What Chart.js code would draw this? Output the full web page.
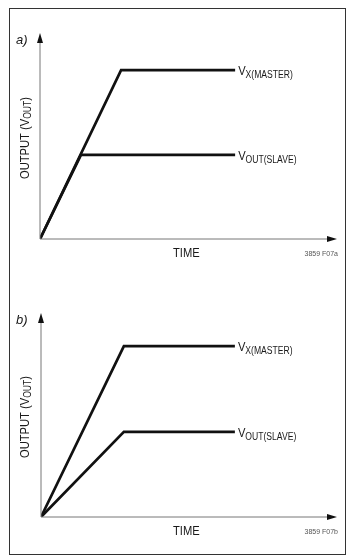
<!DOCTYPE html>
<html>
<head>
<meta charset="utf-8">
<script src="https://cdn.jsdelivr.net/npm/chart.js@4.4.1/dist/chart.umd.min.js"></script>
<style>
  body { margin: 0; background: #fff; }
  #page { position: relative; width: 353px; height: 560px; overflow: hidden; background: #fff; }
  #frame { position: absolute; left: 9px; top: 8px; width: 335px; height: 545px; border: 1px solid #333; }
  canvas { position: absolute; left: 0; }
  #chartA { top: 0; }
  #chartB { top: 280px; }
</style>
</head>
<body>
<div id="page">
  <div id="frame"></div>
  <canvas id="chartA" width="353" height="280"></canvas>
  <canvas id="chartB" width="353" height="280"></canvas>
</div>
<script>
// panel a) - slave follows master then levels off
var timeA = [0, 2.73, 6.57];
var masterA = [0, 8.2, 8.2];
var slaveTimeA = [0, 1.38, 6.57];
var slaveA = [0, 4.08, 4.08];

// panel b) - both ramp together, slave at lower ratio
var timeB = [0, 2.8, 6.55];
var masterB = [0, 8.38, 8.38];
var slaveB = [0, 4.17, 4.17];

var FONT = '"Liberation Sans Narrow", "Liberation Sans", Arial, sans-serif';
var SQUEEZE = 0.86; // fake a condensed face

function toPoints(xs, ys) {
  return xs.map(function (x, i) { return { x: x, y: ys[i] }; });
}

// condensed text run, returns advance width
function narrowText(ctx, txt, x, y, size) {
  ctx.save();
  ctx.font = size + 'px ' + FONT;
  ctx.translate(x, y);
  ctx.scale(SQUEEZE, 1);
  ctx.fillText(txt, 0, 0);
  var w = ctx.measureText(txt).width * SQUEEZE;
  ctx.restore();
  return w;
}

function narrowWidth(ctx, txt, size) {
  ctx.save();
  ctx.font = size + 'px ' + FONT;
  var w = ctx.measureText(txt).width * SQUEEZE;
  ctx.restore();
  return w;
}

// V with a subscript part
function subLabel(ctx, x, y, main, sub) {
  ctx.textBaseline = 'alphabetic';
  ctx.textAlign = 'left';
  var w = narrowText(ctx, main, x, y, 13);
  narrowText(ctx, sub, x + w, y + 3, 10);
}

// axes with arrows, labels and the little figure tag
var figurePlugin = {
  id: 'figure',
  afterDraw: function (chart, args, opts) {
    var ctx = chart.ctx;
    var a = chart.chartArea;
    var xs = chart.scales.x, ys = chart.scales.y;
    ctx.save();

    // axis lines
    ctx.strokeStyle = '#777';
    ctx.lineWidth = 1;
    ctx.beginPath();
    ctx.moveTo(a.left, a.bottom);
    ctx.lineTo(a.left, a.top + 6);
    ctx.moveTo(a.left, a.bottom);
    ctx.lineTo(a.right - 6, a.bottom);
    ctx.stroke();

    // arrow heads
    ctx.fillStyle = '#111';
    ctx.beginPath();
    ctx.moveTo(a.left, a.top);
    ctx.lineTo(a.left - 3, a.top + 10);
    ctx.lineTo(a.left + 3, a.top + 10);
    ctx.closePath();
    ctx.fill();
    ctx.beginPath();
    ctx.moveTo(a.right, a.bottom);
    ctx.lineTo(a.right - 10, a.bottom - 3);
    ctx.lineTo(a.right - 10, a.bottom + 3);
    ctx.closePath();
    ctx.fill();

    ctx.fillStyle = '#1a1a1a';
    // panel letter
    ctx.font = 'italic 13px ' + FONT;
    ctx.textAlign = 'left';
    ctx.textBaseline = 'middle';
    ctx.fillText(opts.tag, 16, a.top + 7);

    // x label
    narrowText(ctx, 'TIME', 173, a.bottom + 14, 13);

    // figure code
    ctx.fillStyle = '#555';
    ctx.textAlign = 'right';
    ctx.font = '7px ' + FONT;
    ctx.fillText(opts.code, 338, a.bottom + 15);
    ctx.textAlign = 'left';

    // y label, rotated
    ctx.fillStyle = '#1a1a1a';
    ctx.save();
    ctx.translate(25, (a.top + a.bottom) / 2 + 2);
    ctx.rotate(-Math.PI / 2);
    var w1 = narrowWidth(ctx, 'OUTPUT (V', 13);
    var w2 = narrowWidth(ctx, 'OUT', 10);
    var w3 = narrowWidth(ctx, ')', 13);
    var start = -(w1 + w2 + w3) / 2;
    narrowText(ctx, 'OUTPUT (V', start, 0, 13);
    narrowText(ctx, 'OUT', start + w1, 3, 10);
    narrowText(ctx, ')', start + w1 + w2, 0, 13);
    ctx.restore();

    // line end labels
    var m = chart.data.datasets[0].data;
    var s = chart.data.datasets[1].data;
    var lm = m[m.length - 1], ls = s[s.length - 1];
    ctx.textBaseline = 'alphabetic';
    subLabel(ctx, xs.getPixelForValue(lm.x) + 3, ys.getPixelForValue(lm.y) + 5, 'V', 'X(MASTER)');
    subLabel(ctx, xs.getPixelForValue(ls.x) + 3, ys.getPixelForValue(ls.y) + 5, 'V', 'OUT(SLAVE)');

    ctx.restore();
  }
};

function makeChart(id, masterPts, slavePts, pad, tag, code) {
  var ctx = document.getElementById(id).getContext('2d');
  return new Chart(ctx, {
    type: 'scatter',
    data: {
      datasets: [
        { label: 'VX(MASTER)', data: masterPts, showLine: true, borderColor: '#111', borderWidth: 2.7, pointRadius: 0, tension: 0 },
        { label: 'VOUT(SLAVE)', data: slavePts, showLine: true, borderColor: '#111', borderWidth: 2.7, pointRadius: 0, tension: 0 }
      ]
    },
    options: {
      responsive: false,
      animation: false,
      layout: { padding: pad },
      plugins: {
        legend: { display: false },
        tooltip: { enabled: false },
        figure: { tag: tag, code: code }
      },
      scales: {
        x: { type: 'linear', min: 0, max: 10, display: false },
        y: { type: 'linear', min: 0, max: 10, display: false }
      }
    },
    plugins: [figurePlugin]
  });
}

makeChart('chartA', toPoints(timeA, masterA), toPoints(slaveTimeA, slaveA),
  { left: 40, right: 16, top: 33, bottom: 41 }, 'a)', '3859 F07a');
makeChart('chartB', toPoints(timeB, masterB), toPoints(timeB, slaveB),
  { left: 41, right: 16, top: 33, bottom: 43 }, 'b)', '3859 F07b');
</script>
</body>
</html>
